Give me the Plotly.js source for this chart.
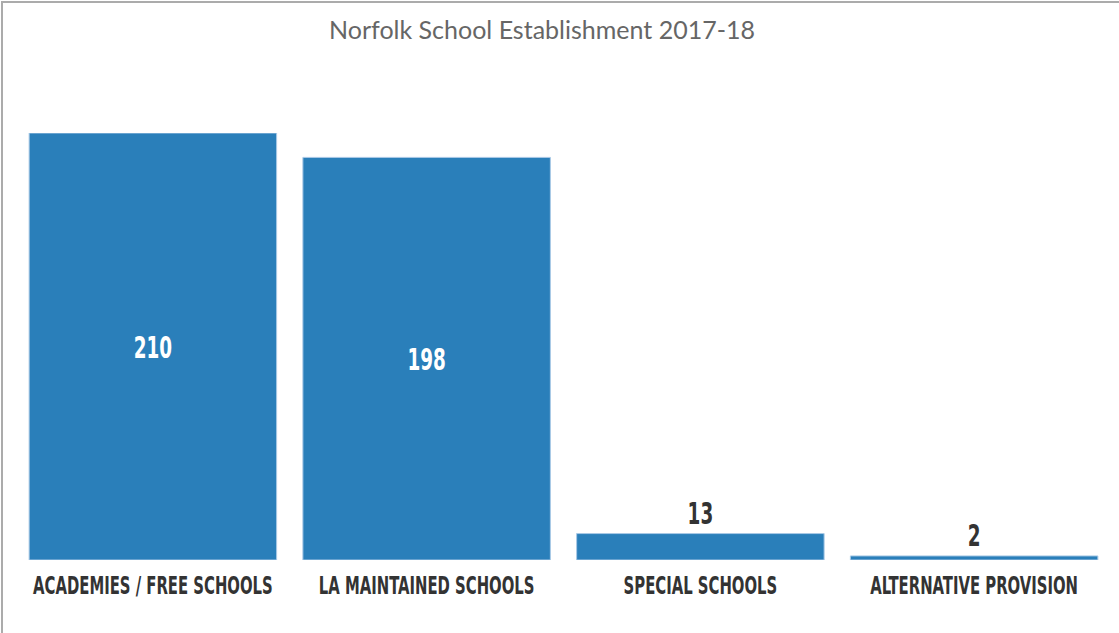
<!DOCTYPE html>
<html>
<head>
<meta charset="utf-8">
<script src="https://cdn.plot.ly/plotly-3.0.1.min.js"></script>
<style>
  html, body { margin: 0; padding: 0; background: #fff; }
  #wrap { position: relative; width: 1119px; height: 633px; overflow: hidden; }
  #chart { width: 1119px; height: 633px; }
  #frame { position: absolute; left: 1px; top: 1px; width: 1130px; height: 640px;
           border-top: 2px solid #ababab; border-left: 2px solid #ababab; pointer-events: none; }
</style>
</head>
<body>
<div id="wrap">
  <div id="chart"></div>
  <div id="frame"></div>
</div>
<script>
const categories = ["ACADEMIES / FREE SCHOOLS", "LA MAINTAINED SCHOOLS", "SPECIAL SCHOOLS", "ALTERNATIVE PROVISION"];
const schoolCounts = [210, 198, 13, 2];
const labelPositions = ["inside", "inside", "outside", "outside"];

const condensed = "'DejaVu Sans Condensed', 'Liberation Sans Narrow', sans-serif";

const trace = {
  type: "bar",
  x: categories,
  y: schoolCounts,
  text: schoolCounts.map(String),
  textposition: labelPositions,
  insidetextanchor: "middle",
  insidetextfont: { family: condensed, size: 31, color: "#ffffff", weight: 700 },
  outsidetextfont: { family: condensed, size: 31, color: "#333333", weight: 700 },
  cliponaxis: false,
  marker: { color: "#2a7fba", line: { color: "#a9c9e6", width: 1 } },
  hoverinfo: "x+y"
};

const layout = {
  width: 1119,
  height: 633,
  margin: { l: 16, r: 8, t: 133, b: 73 },
  paper_bgcolor: "#ffffff",
  plot_bgcolor: "#ffffff",
  showlegend: false,
  bargap: 0.096,
  title: {
    text: "Norfolk School Establishment 2017-18",
    font: { family: "Lato, 'Open Sans', sans-serif", size: 25, color: "#666666" },
    xref: "container", x: 0.4844, xanchor: "center",
    yref: "container", y: 0.953, yanchor: "middle"
  },
  xaxis: {
    type: "category",
    showgrid: false, zeroline: false, showline: false,
    ticks: "", tickangle: 0, ticklabelstandoff: 8,
    tickfont: { family: condensed, size: 25, color: "#333333", weight: 700 }
  },
  yaxis: {
    range: [0, 210], autorange: false,
    visible: false, showgrid: false, zeroline: false
  }
};

Plotly.newPlot("chart", [trace], layout, { displayModeBar: false, staticPlot: true }).then(function () {
  // emulate the tall condensed display face of the original by narrowing glyphs
  document.querySelectorAll("#chart .xtick text, #chart text.bartext").forEach(function (t) {
    const w = t.getComputedTextLength();
    t.setAttribute("textLength", (w * 0.66).toFixed(1));
    t.setAttribute("lengthAdjust", "spacingAndGlyphs");
  });
});
</script>
</body>
</html>
